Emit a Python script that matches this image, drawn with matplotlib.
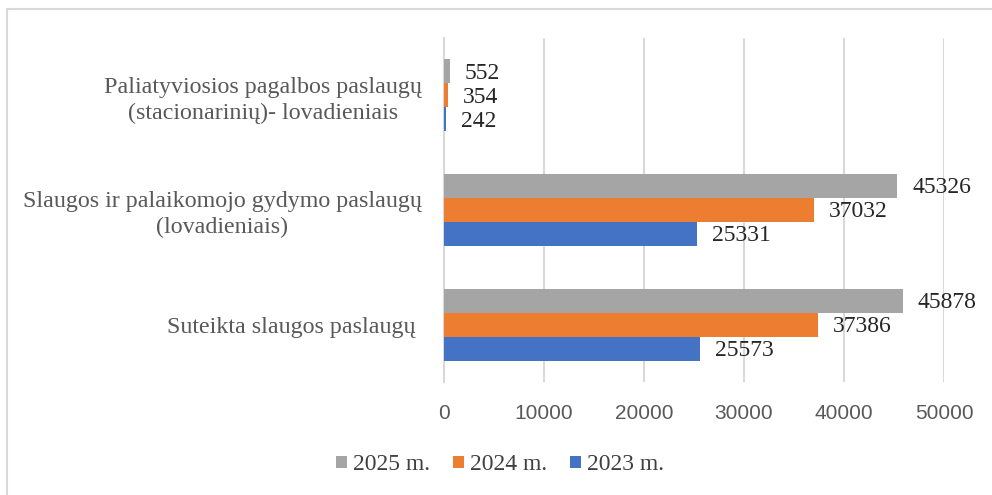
import numpy as np
import matplotlib.pyplot as plt
import matplotlib.transforms as mtransforms
from matplotlib.patches import Rectangle

categories = ["Suteikta slaugos paslaugų ",
              "Slaugos ir palaikomojo gydymo paslaugų\n(lovadieniais)",
              "Paliatyviosios pagalbos paslaugų\n(stacionarinių)- lovadieniais"]
series = ["2025 m.", "2024 m.", "2023 m."]
v2025 = [45878, 45326, 552]
v2024 = [37386, 37032, 354]
v2023 = [25573, 25331, 242]
values = [v2025, v2024, v2023]
colors = ["#A5A5A5", "#ED7D31", "#4472C4"]
xticks = [0, 10000, 20000, 30000, 40000, 50000]

serif = "Liberation Serif"
sans = "Liberation Sans"

fig = plt.figure(figsize=(9.92, 4.95), dpi=100)
W, H = 992, 495
ax = fig.add_axes([444 / W, 1 - 382 / H, 500 / W, 344 / H])

# chart border
fig.patches.append(Rectangle((7 / W, -0.1), 1.2, 1 - 9 / H + 0.1, transform=fig.transFigure,
                             fill=False, edgecolor="#D9D9D9", linewidth=1.5))

y = np.arange(len(categories))
bh = 0.209
offsets = [bh, 0, -bh]
for vals, col, off, name in zip(values, colors, offsets, series):
    bars = ax.barh(y + off, vals, height=bh, color=col, label=name, zorder=3)
    for b, v in zip(bars, vals):
        ax.text(v + 1500, b.get_y() + bh / 2 - 0.015, str(v),
                va="center", ha="left", fontsize=17, family=serif, color="#262626")

ax.set_xlim(0, 50000)
ax.set_ylim(-0.5, 2.5)
ax.set_xticks(xticks)
ax.set_xticklabels([str(t) for t in xticks], family=sans, fontsize=15, color="#595959")
ax.set_yticks(y)
ax.set_yticklabels(categories, family=serif, fontsize=17.3, color="#595959",
                   ha="right", multialignment="center", linespacing=1.3)
# nudge category labels up a little
shift = mtransforms.ScaledTranslation(0, 3 / 100, fig.dpi_scale_trans)
for lab in ax.get_yticklabels():
    lab.set_transform(lab.get_transform() + shift)
ax.tick_params(axis="y", length=0, pad=16)
ax.tick_params(axis="x", length=0, pad=16)
ax.grid(axis="x", color="#D9D9D9", linewidth=1.5, zorder=0)
for s in ["top", "right", "bottom"]:
    ax.spines[s].set_visible(False)
ax.spines["left"].set_color("#D9D9D9")
ax.spines["left"].set_linewidth(1.5)

leg = fig.legend(loc="center", bbox_to_anchor=(500 / W, 1 - 465 / H), ncol=3, frameon=False,
                 prop={"family": serif, "size": 17}, handlelength=0.45, handleheight=0.45,
                 handletextpad=0.25, columnspacing=1.0)
for t in leg.get_texts():
    t.set_color("#404040")

fig.savefig("out.png", dpi=100)
